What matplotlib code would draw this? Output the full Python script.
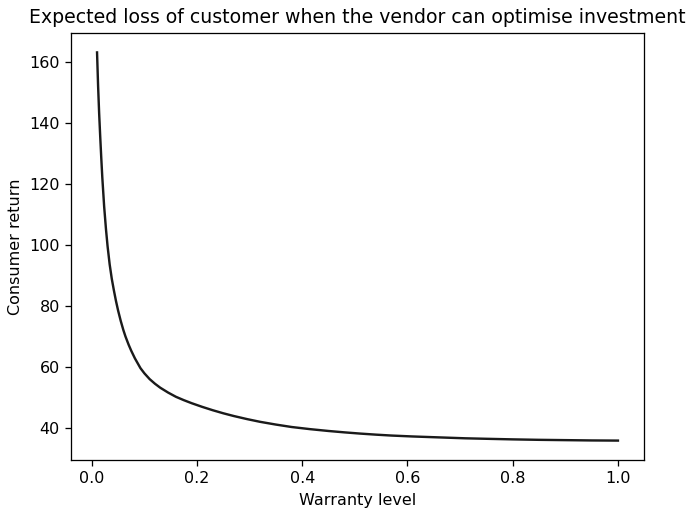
import matplotlib
matplotlib.use("Agg")
import matplotlib.pyplot as plt

# values
warranty = [0.010, 0.012, 0.014, 0.016, 0.018, 0.020, 0.0235, 0.027, 0.030,
            0.034, 0.038, 0.042, 0.046, 0.050, 0.055, 0.060, 0.064, 0.070,
            0.075, 0.082, 0.0925, 0.10, 0.11, 0.12, 0.13, 0.145, 0.16, 0.175,
            0.19, 0.21, 0.23, 0.25, 0.27, 0.295, 0.32, 0.35, 0.38, 0.415,
            0.45, 0.48, 0.51, 0.54, 0.57, 0.61, 0.66, 0.71, 0.76, 0.80, 0.85,
            0.90, 0.95, 1.0]
consumer_return = [163.0, 152.0, 143.0, 135.5, 128.5, 122.0, 112.5, 105.0,
                   99.5, 93.5, 88.8, 85.0, 81.5, 78.4, 75.0, 72.0, 69.9, 67.2,
                   65.2, 62.7, 59.5, 57.8, 55.9, 54.4, 53.1, 51.5, 50.1, 49.0,
                   48.0, 46.8, 45.7, 44.7, 43.8, 42.8, 41.9, 41.0, 40.2, 39.5,
                   38.9, 38.45, 38.05, 37.7, 37.4, 37.1, 36.8, 36.5, 36.3,
                   36.15, 36.0, 35.9, 35.8, 35.75]

scale = 1.155

fig = plt.figure(figsize=(6.92, 5.11), dpi=100)
ax = fig.add_axes([0.1026, 0.0998, 0.828, 0.8356])
ax.plot(warranty, consumer_return, color="#1a1a1a", linewidth=1.5 * scale)
ax.set_title("Expected loss of customer when the vendor can optimise investment",
             fontsize=11.8 * scale, pad=6 * scale)
ax.set_xlabel("Warranty level", fontsize=10 * scale, labelpad=4 * scale)
ax.set_ylabel("Consumer return", fontsize=10 * scale, labelpad=4 * scale)
ax.set_xticks([0.0, 0.2, 0.4, 0.6, 0.8, 1.0])
ax.set_yticks([40, 60, 80, 100, 120, 140, 160])
ax.tick_params(labelsize=10 * scale, length=3.5 * scale, width=0.8 * scale,
               pad=3.5 * scale)
for s in ax.spines.values():
    s.set_linewidth(0.8 * scale)

fig.savefig("out.png", dpi=100)
